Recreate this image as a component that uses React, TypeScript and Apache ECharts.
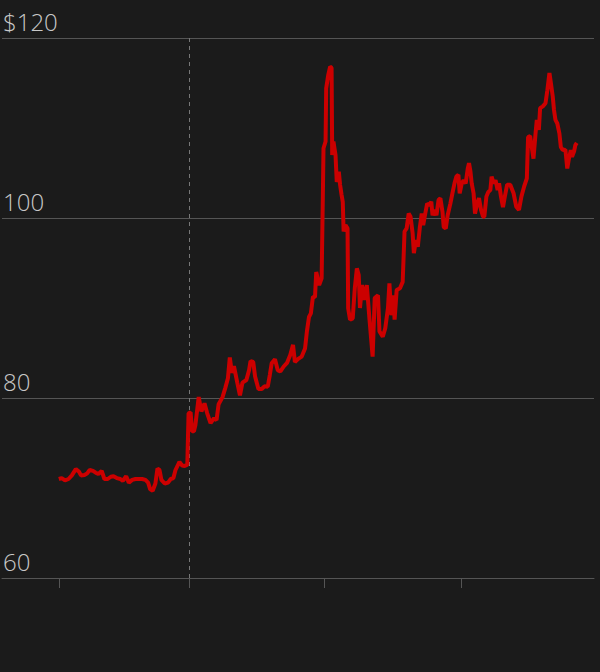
import React, { useEffect, useRef } from "react";
import * as echarts from "echarts";

// Trading-day index (from the start of the series) and closing price
const days: number[] = [
  0, 1.4, 3.0, 4.7, 6.3, 8.2, 9.8, 10.7, 12.4, 13.6, 14.9, 16.5, 17.8, 19.1, 20.7, 22.0, 23.6, 25.1, 26.4, 28.0,
  29.7, 30.9, 32.5, 33.8, 35.4, 37.0, 38.6, 40.2, 41.8, 43.1, 44.1, 45.3, 46.6, 47.6, 48.6, 49.5, 51.1, 52.7, 54.0, 55.3,
  56.3, 58.2, 59.5, 60.7, 62.0, 62.6, 63.6, 64.3, 65.2, 65.9, 67.5, 68.8, 70.3, 71.6, 73.2, 74.9, 76.1, 77.1, 79.0, 80.3,
  81.6, 82.5, 83.5, 84.5, 86.1, 87.4, 88.6, 90.5, 91.8, 92.5, 93.8, 94.7, 96.3, 97.9, 99.2, 100.8, 101.8, 102.7, 104.3, 105.6,
  106.9, 108.5, 110.1, 111.7, 113.0, 113.9, 115.5, 117.2, 118.8, 119.7, 120.7, 121.6, 122.6, 123.6, 124.2, 125.6, 126.8, 127.4, 127.7, 128.7,
  129.0, 130.0, 130.9, 131.6, 131.9, 132.5, 133.5, 134.1, 135.1, 135.7, 136.4, 137.0, 137.4, 138.3, 139.3, 139.6, 140.5, 141.8, 142.8, 143.8,
  144.7, 145.3, 146.3, 147.3, 148.6, 149.9, 151.4, 152.4, 154.0, 154.7, 156.3, 157.5, 158.8, 159.5, 160.4, 161.4, 162.0, 163.0, 164.6, 165.9,
  166.8, 167.8, 168.8, 169.7, 170.7, 171.3, 172.3, 173.2, 174.2, 175.1, 175.8, 176.8, 177.7, 178.7, 179.7, 180.3, 181.3, 182.2, 183.2, 184.1,
  185.1, 185.7, 186.7, 187.6, 188.9, 189.9, 190.9, 191.8, 192.8, 193.4, 194.4, 195.3, 196.3, 197.3, 197.9, 198.6, 199.2, 200.1, 200.8, 201.8,
  202.7, 203.7, 204.7, 205.3, 206.3, 207.2, 208.2, 208.8, 209.8, 210.7, 211.7, 212.4, 213.3, 214.3, 215.2, 216.3, 217.8, 219.4, 220.7, 222.0,
  223.2, 224.5, 225.8, 226.4, 227.4, 229.0, 230.0, 230.6, 231.6, 232.2, 233.5, 234.8, 235.7, 236.7, 237.4, 238.3, 238.9, 239.6, 240.5, 241.5,
  242.2, 243.1, 244.4, 245.3, 246.0, 247.0, 247.6, 248.6, 249.2, 249.9,
];

const prices: number[] = [
  71.0, 71.1, 70.85, 71.0, 71.4, 72.1, 71.8, 71.4, 71.45, 71.6, 72.0, 71.9, 71.7, 71.55, 71.9, 71.0, 71.0, 71.25, 71.3, 71.1,
  71.0, 70.8, 71.3, 70.6, 70.9, 71.0, 71.0, 71.0, 70.9, 70.6, 69.85, 69.7, 70.5, 72.15, 72.0, 70.9, 70.5, 70.6, 71.0, 71.1,
  72.0, 72.9, 72.5, 72.45, 72.6, 78.3, 78.4, 76.3, 76.3, 77.0, 80.1, 78.5, 79.4, 78.3, 77.2, 77.75, 77.55, 79.3, 80.1, 81.1,
  82.2, 84.5, 82.8, 83.55, 81.7, 80.3, 81.7, 82.0, 83.1, 84.1, 84.0, 82.4, 81.0, 81.0, 81.3, 81.25, 82.55, 83.85, 84.3, 83.1,
  82.95, 83.5, 83.9, 84.8, 85.9, 84.0, 84.35, 84.6, 85.5, 87.4, 89.0, 89.4, 91.25, 91.2, 94.0, 92.55, 93.3, 102.6, 107.75, 108.5,
  114.4, 115.9, 116.8, 116.7, 107.0, 108.5, 107.0, 104.0, 105.15, 103.7, 102.6, 101.8, 98.5, 99.2, 98.85, 89.97, 88.7, 88.85, 92.2, 94.4,
  93.65, 90.0, 92.55, 90.9, 92.55, 88.7, 84.6, 91.1, 91.4, 87.4, 86.8, 87.75, 90.0, 92.75, 89.2, 91.4, 88.7, 92.0, 92.2, 92.9,
  98.5, 98.85, 100.5, 100.15, 98.3, 96.1, 97.55, 96.8, 99.0, 100.5, 99.2, 100.5, 101.6, 101.45, 101.8, 100.3, 100.9, 100.3, 102.0, 102.2,
  100.7, 99.0, 98.85, 100.3, 101.6, 102.75, 103.85, 104.6, 104.8, 102.75, 103.85, 104.2, 103.85, 105.5, 106.1, 105.15, 103.85, 102.75, 100.5, 101.6,
  102.2, 100.9, 100.15, 100.15, 102.4, 102.9, 103.1, 104.6, 103.85, 104.2, 103.1, 103.85, 102.4, 101.2, 102.4, 103.7, 103.7, 102.75, 101.25, 100.9,
  102.4, 103.5, 104.4, 109.0, 109.1, 106.6, 109.4, 110.9, 109.8, 112.2, 112.4, 112.75, 114.2, 116.1, 115.0, 113.5, 112.0, 110.9, 110.5, 109.4,
  107.9, 107.55, 107.6, 105.5, 106.45, 107.55, 106.8, 107.4, 108.1, 108.35,
];

// Quarter boundaries on the x axis (trading days), marked event day
const quarterTicks: number[] = [0, 63, 128, 194];
const eventDay = 63;
const yTicks: number[] = [60, 80, 100, 120];

export default function App() {
  const ref = useRef<HTMLDivElement>(null);

  useEffect(() => {
    if (!ref.current) return;
    const chart = echarts.init(ref.current, undefined, { renderer: "svg" });
    const gridColor = "#555555";
    chart.setOption({
      animation: false,
      backgroundColor: "#1b1b1b",
      grid: { left: 0, right: 6, top: 38, bottom: 94, containLabel: false },
      xAxis: {
        type: "value",
        min: -27.4,
        max: 258.2,
        axisLine: { show: true, lineStyle: { color: gridColor, width: 1 } },
        axisTick: {
          show: true,
          customValues: quarterTicks,
          length: 10,
          lineStyle: { color: gridColor, width: 1 },
        },
        axisLabel: { show: false },
        splitLine: { show: false },
      },
      yAxis: {
        type: "value",
        min: 60,
        max: 120,
        interval: 20,
        axisLine: { show: false },
        axisTick: { show: false },
        splitLine: { show: true, lineStyle: { color: gridColor, width: 1 } },
        axisLabel: {
          inside: true,
          margin: 1,
          color: "#c8c8c8",
          fontFamily: "Open Sans",
          fontWeight: 300,
          fontSize: 24,
          verticalAlign: "bottom",
          lineHeight: 28,
          padding: [0, 0, 3, 0],
          formatter: (v: number) => (v === yTicks[yTicks.length - 1] ? "$" + v : String(v)),
        },
      },
      series: [
        {
          type: "line",
          data: days.map((d, i) => [d, prices[i]]),
          showSymbol: false,
          symbol: "none",
          lineStyle: { color: "#cc0000", width: 4 },
          itemStyle: { color: "#cc0000" },
          z: 5,
          markLine: {
            silent: true,
            symbol: ["none", "none"],
            label: { show: false },
            lineStyle: { color: "#777777", type: [4, 4], width: 1 },
            data: [{ xAxis: eventDay }],
            z: 1,
          },
        },
      ],
    });
    return () => chart.dispose();
  }, []);

  return (
    <div
      ref={ref}
      style={{ position: "absolute", left: 0, top: 0, width: 600, height: 672, background: "#1b1b1b" }}
    />
  );
}
